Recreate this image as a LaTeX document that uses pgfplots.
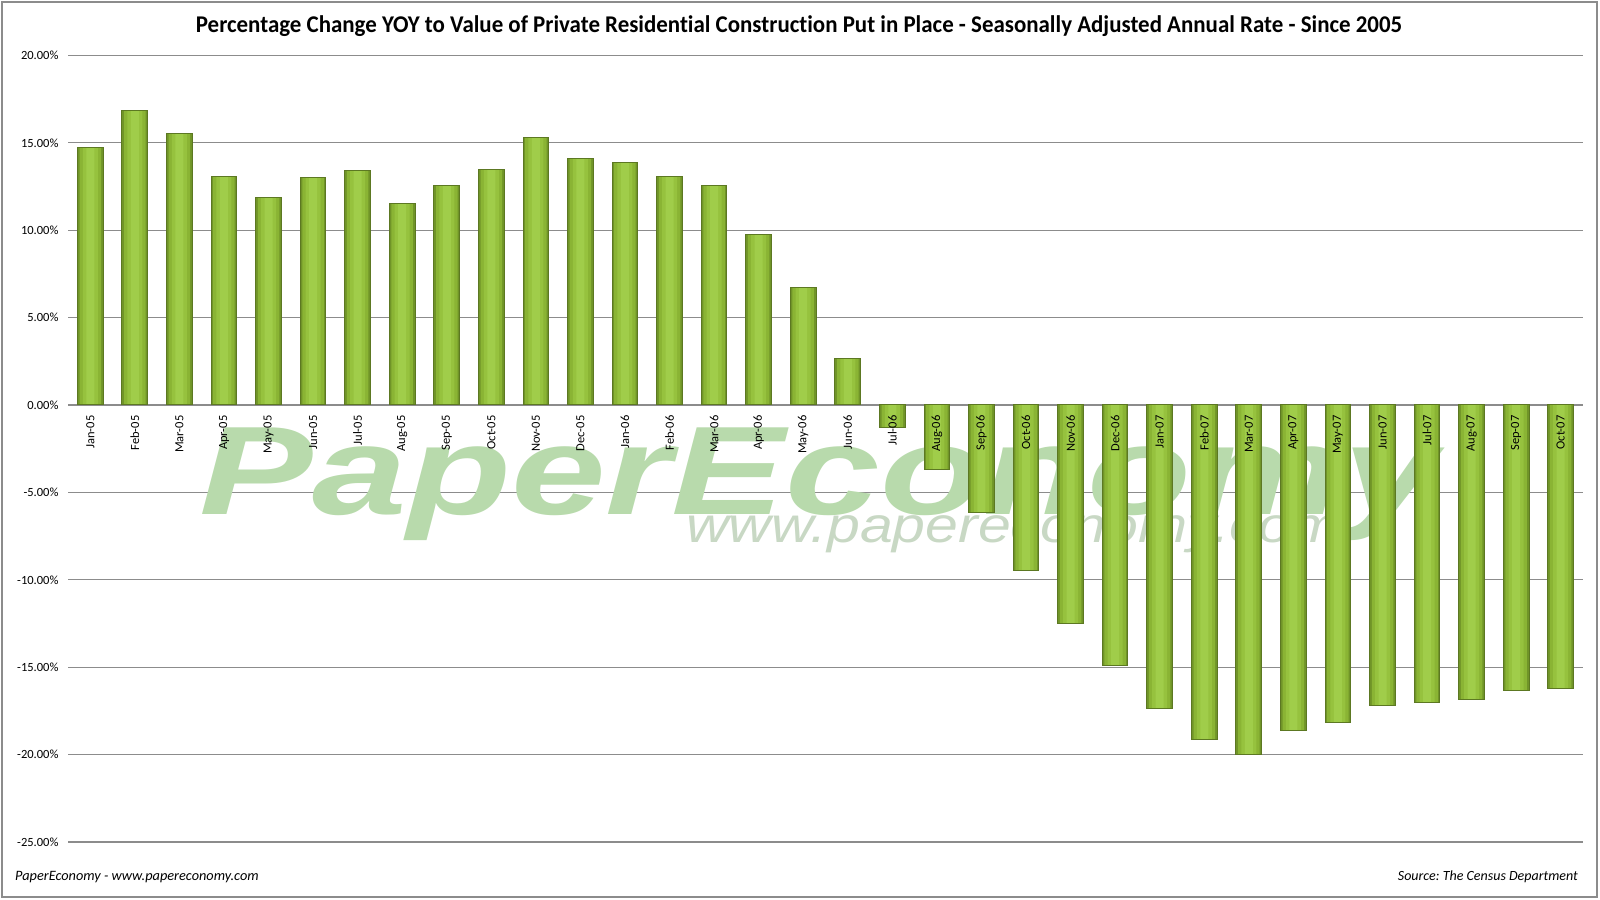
\documentclass[border=0pt]{standalone}
\usepackage{pgfplots}
\usepackage{pgfplotstable}
\pgfplotsset{compat=1.18}
\usepackage{fontspec}
\setmainfont{Carlito}[Ligatures=NoCommon]
\newfontfamily\wmfont{Liberation Sans}
\frenchspacing
\definecolor{gridc}{RGB}{140,140,140}
\definecolor{barA}{RGB}{112,148,40}
\definecolor{barB}{RGB}{138,180,52}
\definecolor{barC}{RGB}{150,194,62}
\definecolor{barD}{RGB}{160,205,74}
\definecolor{barline}{RGB}{92,120,34}
\definecolor{wm}{RGB}{184,218,172}
\definecolor{wmsmall}{RGB}{200,216,196}
\definecolor{framec}{RGB}{140,140,140}
\pgfplotsset{layers/mylayers/.define layer set={axis background,axis grid,main,axis ticks,axis lines,axis tick labels,axis descriptions,axis foreground}{/pgfplots/layers/standard}}

\pgfplotstableread{
x y
0 14.74
1 16.84
2 15.56
3 13.06
4 11.86
5 13.02
6 13.39
7 11.52
8 12.57
9 13.45
10 15.33
11 14.08
12 13.87
13 13.05
14 12.55
15 9.77
16 6.70
17 2.67
18 -1.28
19 -3.71
20 -6.17
21 -9.47
22 -12.51
23 -14.91
24 -17.37
25 -19.12
26 -20.00
27 -18.63
28 -18.19
29 -17.20
30 -17.03
31 -16.82
32 -16.34
33 -16.23
}\datatable

\begin{document}
\begin{tikzpicture}
\path (0pt,0pt) rectangle (1600pt,899pt);
\draw[framec, line width=1.2pt] (2pt,2pt) rectangle (1597pt,897pt);
\node[anchor=base west, inner sep=0, xscale=1.35, text=wm, font=\wmfont\bfseries\itshape\fontsize{126}{130}\selectfont] at (199pt,384pt) {PaperEconomy};
\node[anchor=base west, inner sep=0, xscale=1.18, text=wmsmall, font=\wmfont\itshape\fontsize{50}{60}\selectfont] at (686pt,356pt) {www.papereconomy.com};
\begin{axis}[set layers=mylayers, scale only axis, width=1515pt, height=786.6pt,
  at={(68pt,57pt)}, anchor=south west,
  xmin=-0.5, xmax=33.5, ymin=-25, ymax=20,
  axis x line=middle, axis y line=left, axis line style={draw=none},
  major tick length=0,
  ytick={-25,-20,...,20},
  yticklabels={-25.00\%,-20.00\%,-15.00\%,-10.00\%,-5.00\%,0.00\%,5.00\%,10.00\%,15.00\%,20.00\%},
  ymajorgrids, grid style={gridc, line width=1.2pt},
  xtick={0,...,33},
  xticklabels={Jan-05,Feb-05,Mar-05,Apr-05,May-05,Jun-05,Jul-05,Aug-05,Sep-05,Oct-05,Nov-05,Dec-05,Jan-06,Feb-06,Mar-06,Apr-06,May-06,Jun-06,Jul-06,Aug-06,Sep-06,Oct-06,Nov-06,Dec-06,Jan-07,Feb-07,Mar-07,Apr-07,May-07,Jun-07,Jul-07,Aug-07,Sep-07,Oct-07},
  xticklabel style={font=\fontsize{12.5}{14}\selectfont, rotate=90, anchor=east, xshift=-7pt},
  yticklabel style={font=\fontsize{12.5}{14}\selectfont, anchor=east, xshift=-6pt},
  hide obscured y ticks=false,
  clip=false]
\addplot[ybar, bar width=25.7pt, draw=none, fill=barA] table[x=x,y=y]{\datatable};
\addplot[ybar, bar width=21.5pt, draw=none, fill=barB] table[x=x,y=y]{\datatable};
\addplot[ybar, bar width=15pt, draw=none, fill=barC] table[x=x,y=y]{\datatable};
\addplot[ybar, bar width=8pt, draw=none, fill=barD] table[x=x,y=y]{\datatable};
\addplot[ybar, bar width=25.7pt, draw=barline, line width=1pt, fill=none] table[x=x,y=y]{\datatable};
\end{axis}
\node[anchor=base, inner sep=0, xscale=0.955, font=\bfseries\fontsize{24}{28}\selectfont] at (799pt,866pt) {Percentage Change YOY to Value of Private Residential Construction Put in Place - Seasonally Adjusted Annual Rate - Since 2005};
\node[anchor=base west, inner sep=0, font=\itshape\fontsize{14.3}{16}\selectfont] at (15pt,18.3pt) {PaperEconomy - www.papereconomy.com};
\node[anchor=base east, inner sep=0, font=\itshape\fontsize{14}{16}\selectfont] at (1578pt,18.3pt) {Source: The Census Department};
\end{tikzpicture}
\end{document}
